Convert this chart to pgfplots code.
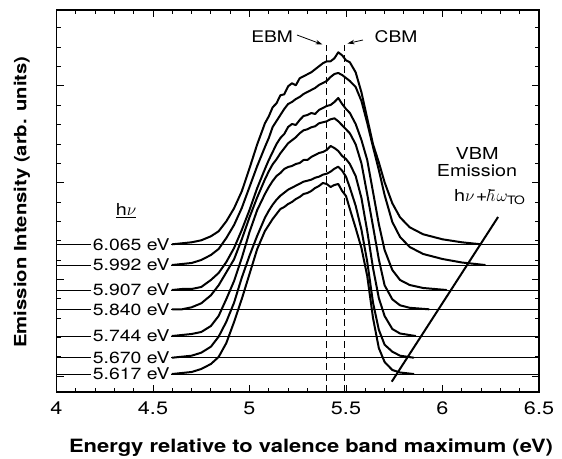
\documentclass[border=0pt]{standalone}
\usepackage{amssymb}
\usepackage{fontspec}
\setmainfont{TeX Gyre Heros}[FakeStretch=1.2]
\usepackage{pgfplots}
\pgfplotsset{compat=1.18}
\usepackage{pgfplotstable}
\usetikzlibrary{arrows.meta}
\newcommand\fs[1]{\fontsize{#1bp}{#1bp}\selectfont}

% heights above each spectrum's own baseline (arb. units)
\pgfplotstableread{
x h
4.60 0
4.65 1
4.70 2
4.75 4
4.80 8
4.84 13
4.88 23
4.92 36
4.96 53
5.00 76
5.04 100
5.08 121
5.10 128
5.12 137
5.14 141
5.16 149
5.18 150
5.20 158
5.22 161
5.24 159
5.26 166
5.28 168
5.30 170
5.32 172
5.34 175
5.36 178
5.38 181
5.40 183
5.42 183
5.44 186
5.46 192
5.48 189
5.50 184
5.52 182
5.55 172
5.58 152
5.61 126
5.64 100
5.67 82
5.70 62
5.74 41
5.78 27
5.83 17
5.90 10
6.00 5
6.10 2
6.20 0
}\cA
\pgfplotstableread{
x h
4.60 0
4.65 1
4.70 2
4.75 5
4.80 10
4.84 16
4.88 27
4.92 40
4.96 57
5.00 78
5.04 99
5.08 118
5.10 127
5.12 138
5.14 144
5.16 150
5.18 156
5.20 161
5.22 163
5.24 166
5.26 168
5.28 171
5.30 173
5.32 175
5.34 177
5.36 180
5.38 182
5.40 184
5.42 188
5.44 191
5.46 192
5.48 190
5.50 187
5.52 184
5.55 178
5.58 164
5.61 142
5.64 118
5.67 95
5.70 70
5.74 43
5.78 28
5.83 18
5.90 11
6.00 6
6.10 2.5
6.22 0
}\cB
\pgfplotstableread{
x h
4.60 0
4.65 1
4.70 1
4.75 3
4.80 10
4.84 17
4.88 28
4.92 42
4.96 60
5.00 80
5.04 102
5.08 121
5.10 130
5.12 138
5.14 146
5.16 152
5.18 156
5.20 163
5.22 166
5.24 165
5.26 170
5.28 174
5.30 175
5.32 177
5.34 176
5.36 180
5.38 182
5.40 184
5.42 185
5.44 188
5.46 192
5.48 186
5.50 181
5.52 177
5.55 166
5.58 150
5.61 130
5.64 98
5.67 66
5.70 40
5.74 20
5.78 10
5.83 5
5.90 2
6.02 0
}\cC
\pgfplotstableread{
x h
4.60 0
4.65 0
4.70 2
4.75 6
4.80 14
4.84 24
4.88 37
4.92 50
4.96 70
5.00 92
5.04 112
5.08 130
5.10 138
5.12 145
5.14 150
5.16 156
5.18 161
5.20 166
5.22 169
5.24 172
5.26 176
5.28 179
5.30 180
5.32 182
5.34 183
5.36 186
5.38 187
5.40 188
5.42 190
5.44 191
5.46 188
5.48 184
5.50 180
5.52 176
5.55 165
5.58 146
5.61 115
5.64 83
5.67 50
5.70 24
5.74 10
5.78 4
5.83 1.5
5.93 0
}\cD
\pgfplotstableread{
x h
4.60 0
4.65 1
4.70 2
4.75 4
4.80 10
4.84 20
4.88 37
4.92 55
4.96 78
5.00 104
5.04 126
5.08 142
5.10 149
5.12 155
5.14 160
5.16 163
5.18 167
5.20 169
5.22 170
5.24 172
5.26 173
5.28 176
5.30 176
5.32 179
5.34 181
5.36 183
5.38 184
5.40 186
5.42 190
5.44 188
5.46 185
5.48 180
5.50 177
5.52 172
5.55 160
5.58 138
5.61 105
5.64 68
5.67 38
5.70 20
5.74 7
5.78 2.5
5.86 0
}\cE
\pgfplotstableread{
x h
4.60 0
4.65 1
4.70 2
4.75 5
4.80 11
4.84 21
4.88 36
4.92 55
4.96 80
5.00 102
5.04 122
5.08 140
5.10 147
5.12 153
5.14 158
5.16 162
5.18 165
5.20 168
5.22 170
5.24 172
5.26 174
5.28 176
5.30 177
5.32 178
5.34 180
5.36 181
5.38 183
5.40 184
5.42 186
5.44 189
5.46 191
5.48 187
5.50 181
5.52 170
5.55 152
5.58 128
5.61 96
5.64 55
5.67 28
5.70 13
5.74 6
5.78 2
5.85 0
}\cF
\pgfplotstableread{
x h
4.60 0
4.65 1
4.70 2
4.75 5
4.80 10
4.84 17
4.88 31
4.92 52
4.96 75
5.00 100
5.04 125
5.08 143
5.10 149
5.12 155
5.14 160
5.16 165
5.18 167
5.20 170
5.22 172
5.24 175
5.26 177
5.28 180
5.30 181
5.32 183
5.34 186
5.36 188
5.38 191
5.40 190
5.42 187
5.44 189
5.46 190
5.48 183
5.50 178
5.52 165
5.55 146
5.58 126
5.61 98
5.64 56
5.67 26
5.70 12
5.74 4
5.78 1.5
5.85 0
}\cG

\begin{document}
\begin{tikzpicture}
\useasboundingbox (0,0) rectangle (562bp,459bp);
\begin{axis}[
  at={(56.5bp,67bp)}, anchor=south west,
  scale only axis, width=482.5bp, height=382bp,
  xmin=4, xmax=6.5, ymin=0, ymax=382,
  xtick={4,4.5,5,5.5,6,6.5}, minor x tick num=4,
  ytick={16,112.7,209.4,306.1},
  minor ytick={35.3,54.7,74,93.4,132,151.4,170.7,190,228.7,248,267.4,286.7,325.4,344.8,364.1},
  yticklabels={},
  major tick length=7bp, minor tick length=4bp,
  tick style={line width=0.9bp, black},
  axis line style={line width=1.2bp},
  xticklabel style={font=\fs{18}, yshift=-6bp},
  /pgf/number format/assume math mode=true,
  clip=false,
  spec/.style={line width=2bp, line join=round, line cap=round},
  base/.style={line width=0.8bp},
]
% baselines
\addplot[base] coordinates {(4,147.7) (6.5,147.7)};
\addplot[base] coordinates {(4,127) (6.5,127)};
\addplot[base] coordinates {(4,102) (6.5,102)};
\addplot[base] coordinates {(4,82.7) (6.5,82.7)};
\addplot[base] coordinates {(4,56) (6.5,56)};
\addplot[base] coordinates {(4,34.3) (6.5,34.3)};
\addplot[base] coordinates {(4,18) (6.5,18)};
% spectra
\addplot[spec] table[x=x, y expr=\thisrow{h}+147.7] {\cA};
\addplot[spec] table[x=x, y expr=\thisrow{h}+127] {\cB};
\addplot[spec] table[x=x, y expr=\thisrow{h}+102] {\cC};
\addplot[spec] table[x=x, y expr=\thisrow{h}+82.7] {\cD};
\addplot[spec] table[x=x, y expr=\thisrow{h}+56] {\cE};
\addplot[spec] table[x=x, y expr=\thisrow{h}+34.3] {\cF};
\addplot[spec] table[x=x, y expr=\thisrow{h}+18] {\cG};
% EBM / CBM
\addplot[line width=0.7bp, dash pattern=on 7bp off 4bp] coordinates {(5.40,0) (5.40,347)};
\addplot[line width=0.7bp, dash pattern=on 7bp off 4bp] coordinates {(5.49,0) (5.49,347)};
% VBM emission line
\addplot[line width=2bp] coordinates {(5.737,10.3) (6.288,175)};

\draw[-{Stealth[length=7bp,width=4.5bp]}, line width=0.8bp] (axis cs:5.246,357) -- (axis cs:5.378,347.5);
\draw[-{Stealth[length=7bp,width=4.5bp]}, line width=0.8bp] (axis cs:5.588,352) -- (axis cs:5.508,348.5);
\node[font=\fs{16}] at (axis cs:5.117,355) {EBM};
\node[font=\fs{16}] at (axis cs:5.759,355) {CBM};
\node[font=\fs{16.5}] at (axis cs:6.179,239) {VBM};
\node[font=\fs{16.5}] at (axis cs:6.179,221) {Emission};
\node[font=\fs{16.5}, inner sep=1bp] at (axis cs:6.24,195) {h$\nu$\kern1.5bp+\kern1.5bp$\hbar\kern1bp\omega_{\mathrm{TO}}$};
\node[font=\fs{16.5}] at (axis cs:4.36,181) {\underline{h$\nu$}};

\tikzset{lab/.style={fill=white, inner xsep=1.5bp, inner ysep=1bp, anchor=east, font=\fs{16.2}}}
\node[lab] at (axis cs:4.595,147.7) {6.065 eV};
\node[lab] at (axis cs:4.595,127) {5.992 eV};
\node[lab] at (axis cs:4.595,102) {5.907 eV};
\node[lab] at (axis cs:4.595,82.7) {5.840 eV};
\node[lab] at (axis cs:4.595,56) {5.744 eV};
\node[lab] at (axis cs:4.595,34.3) {5.670 eV};
\node[lab] at (axis cs:4.595,18) {5.617 eV};
\end{axis}
\node[rotate=90, font=\fs{16.9}\bfseries] at (22bp,257bp) {Emission Intensity (arb. units)};
\node[font=\fs{18.3}\bfseries] at (311bp,11bp) {Energy relative to valence band maximum (eV)};
\end{tikzpicture}
\end{document}
